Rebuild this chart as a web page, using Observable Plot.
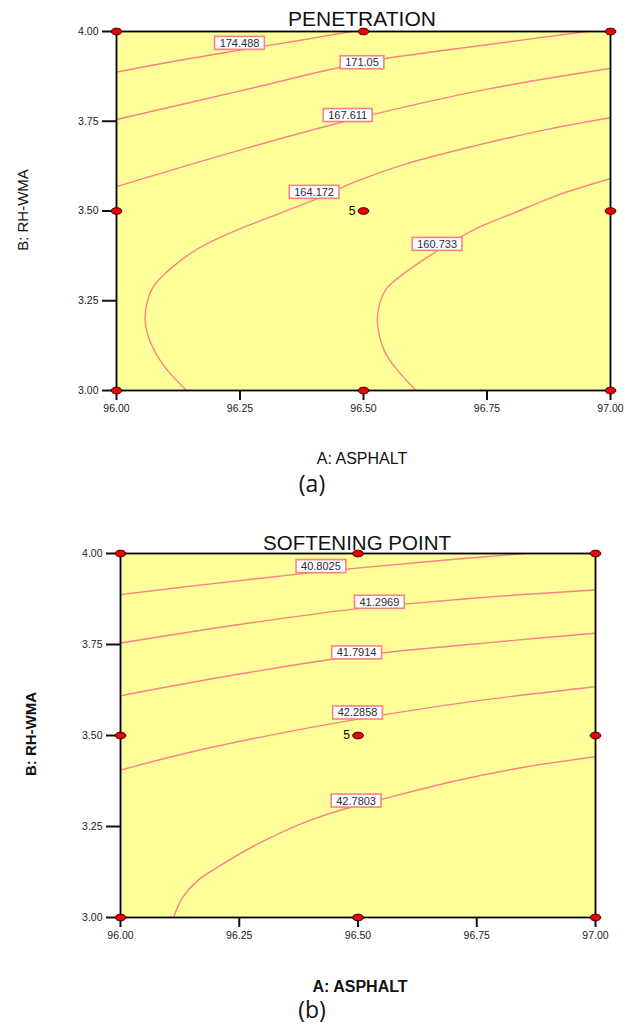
<!DOCTYPE html>
<html><head><meta charset="utf-8">
<script src="https://cdn.jsdelivr.net/npm/d3@7"></script>
<script src="https://cdn.jsdelivr.net/npm/@observablehq/plot@0.6"></script>
<style>
body{margin:0;background:#fff;}
#root{position:relative;width:634px;height:1027px;overflow:hidden;font-family:"Liberation Sans",Arial,sans-serif;color:#111;}
.t{position:absolute;white-space:nowrap;}
</style></head><body><div id="root"></div>
<script>
// ---------- shared design (factor) data ----------
const designA = [96, 96.5, 97, 96, 96.5, 97, 96, 96.5, 97];
const designB = [3, 3, 3, 3.5, 3.5, 3.5, 4, 4, 4];
const replicateLabel = ["", "", "", "", "5", "", "", "", ""];
const xTicks = [96, 96.25, 96.5, 96.75, 97];
const yTicks = [3, 3.25, 3.5, 3.75, 4];

// ---------- (a) PENETRATION contours ----------
const penLevels = ["174.488", "171.05", "167.611", "164.172", "160.733"];
const penA = [
  [96, 96.12, 96.25, 96.37, 96.476],
  [96, 96.255, 96.455, 96.541, 96.75, 96.951],
  [96, 96.248, 96.47, 96.746, 97],
  [96.142, 96.098, 96.070, 96.058, 96.063, 96.074, 96.094, 96.125, 96.159, 96.200, 96.258, 96.337, 96.405, 96.487, 96.583, 96.727, 96.86, 97],
  [96.607, 96.569, 96.542, 96.528, 96.535, 96.546, 96.563, 96.604, 96.651, 96.727, 96.809, 96.891, 97]
];
const penB = [
  [3.887, 3.918, 3.948, 3.975, 4.0],
  [3.755, 3.836, 3.901, 3.924, 3.963, 4.0],
  [3.568, 3.669, 3.752, 3.838, 3.897],
  [3.0, 3.065, 3.130, 3.195, 3.251, 3.288, 3.320, 3.357, 3.390, 3.420, 3.455, 3.497, 3.534, 3.583, 3.630, 3.682, 3.724, 3.760],
  [3.0, 3.056, 3.111, 3.195, 3.251, 3.283, 3.306, 3.348, 3.390, 3.450, 3.497, 3.543, 3.590]
];
const penLabelA = [96.249, 96.497, 96.468, 96.400, 96.649];
const penLabelB = [3.967, 3.913, 3.766, 3.552, 3.407];

// ---------- (b) SOFTENING POINT contours ----------
const spLevels = ["40.8025", "41.2969", "41.7914", "42.2858", "42.7803"];
const spA = [
  [96, 96.2, 96.42, 96.65, 96.849],
  [96, 96.25, 96.496, 96.598, 96.8, 97],
  [96, 96.172, 96.449, 96.55, 96.8, 97],
  [96, 96.14, 96.3, 96.5, 96.75, 97],
  [96.112, 96.130, 96.165, 96.208, 96.286, 96.385, 96.456, 96.548, 96.704, 96.846, 97]
];
const spB = [
  [3.887, 3.918, 3.950, 3.978, 4.0],
  [3.754, 3.805, 3.848, 3.861, 3.883, 3.900],
  [3.609, 3.651, 3.710, 3.727, 3.758, 3.781],
  [3.405, 3.452, 3.497, 3.545, 3.595, 3.634],
  [3.0, 3.053, 3.104, 3.141, 3.2, 3.26, 3.292, 3.324, 3.375, 3.412, 3.442]
];
const spLabelA = [96.422, 96.545, 96.497, 96.499, 96.496];
const spLabelB = [3.964, 3.866, 3.727, 3.562, 3.32];

// ---------- helpers ----------
const ellipse = {draw(ctx, size) {
  const rx = Math.sqrt(size / Math.PI), ry = rx * 0.62, kx = rx * 0.5523, ky = ry * 0.5523;
  ctx.moveTo(rx, 0);
  ctx.bezierCurveTo(rx, ky, kx, ry, 0, ry);
  ctx.bezierCurveTo(-kx, ry, -rx, ky, -rx, 0);
  ctx.bezierCurveTo(-rx, -ky, -kx, -ry, 0, -ry);
  ctx.bezierCurveTo(kx, -ry, rx, -ky, rx, 0);
  ctx.closePath();
}};

function buildRows(levels, A, B) {
  const rows = [];
  levels.forEach((lv, i) => A[i].forEach((a, j) => rows.push({level: lv, a, b: B[i][j]})));
  return rows;
}
function buildLabels(levels, A, B) {
  return levels.map((lv, i) => ({level: lv, a: A[i], b: B[i]}));
}
const design = designA.map((a, i) => ({a, b: designB[i], rep: replicateLabel[i]}));

function contourChart({levels, A, B, LA, LB, height, marginLeft, marginRight, top}) {
  const rows = buildRows(levels, A, B);
  const labels = buildLabels(levels, LA, LB);
  const svg = Plot.plot({
    width: 634, height, marginLeft, marginRight, marginTop: 31, marginBottom: 40,
    style: {fontFamily: '"Liberation Sans", Arial, sans-serif', fontSize: "10.5px", color: "#222", background: "transparent", overflow: "visible"},
    x: {domain: [96, 97], axis: null},
    y: {domain: [3, 4], axis: null},
    marks: [
      Plot.frame({fill: "#ffff99"}),
      Plot.line(rows, {x: "a", y: "b", z: "level", stroke: "#ff8080", strokeWidth: 1.4, curve: "catmull-rom", clip: true}),
      Plot.text(labels, {x: "a", y: "b", text: "level", fontSize: 11, fill: "#2b2b3a", className: "clabel"}),
      Plot.frame({stroke: "#000", strokeWidth: 1.8}),
      Plot.axisX({ticks: xTicks, tickFormat: d3.format(".2f"), tickSize: 10, tickPadding: 4, strokeWidth: 2, stroke: "#111", label: null}),
      Plot.axisY({ticks: yTicks, tickFormat: d3.format(".2f"), tickSize: 14, tickPadding: 4, strokeWidth: 2, stroke: "#111", label: null}),
      Plot.dot(design, {x: "a", y: "b", symbol: ellipse, r: 5.4, fill: "#ee0000", stroke: "#2a0000", strokeWidth: 1}),
      Plot.text(design, {x: "a", y: "b", text: "rep", dx: -8, textAnchor: "end", fontSize: 12, fill: "#000"})
    ]
  });
  svg.style.position = "absolute";
  svg.style.left = "0px";
  svg.style.top = top + "px";
  return svg;
}

function boxLabels(svg, levels) {
  const want = new Set(levels);
  svg.querySelectorAll("text").forEach(t => {
    if (!want.has(t.textContent.trim())) return;
    const b = t.getBBox();
    const r = document.createElementNS("http://www.w3.org/2000/svg", "rect");
    r.setAttribute("x", b.x - 5);
    r.setAttribute("y", b.y - 0.5);
    r.setAttribute("width", b.width + 10);
    r.setAttribute("height", b.height + 1);
    r.setAttribute("fill", "#fff");
    r.setAttribute("stroke", "#ff8080");
    r.setAttribute("stroke-width", 1.6);
    const tr = t.getAttribute("transform");
    if (tr) r.setAttribute("transform", tr);
    t.parentNode.insertBefore(r, t);
  });
}

function hText(root, txt, cx, baseline, size, opts = {}) {
  const d = document.createElement("div");
  d.className = "t";
  d.textContent = txt;
  d.style.fontSize = size + "px";
  d.style.lineHeight = size + "px";
  d.style.left = cx + "px";
  d.style.top = (baseline - 0.8465 * size) + "px";
  d.style.transform = "translateX(-50%)";
  if (opts.weight) d.style.fontWeight = opts.weight;
  if (opts.family) d.style.fontFamily = opts.family;
  root.appendChild(d);
}
function vText(root, txt, baselineX, cy, size, opts = {}) {
  const d = document.createElement("div");
  d.className = "t";
  d.textContent = txt;
  d.style.fontSize = size + "px";
  d.style.lineHeight = size + "px";
  const cx = baselineX - 0.3465 * size;
  d.style.left = cx + "px";
  d.style.top = cy + "px";
  d.style.transform = "translate(-50%,-50%) rotate(-90deg)";
  if (opts.weight) d.style.fontWeight = opts.weight;
  root.appendChild(d);
}

const root = document.getElementById("root");

// (a)
const svgA = contourChart({levels: penLevels, A: penA, B: penB, LA: penLabelA, LB: penLabelB,
  height: 430, marginLeft: 116, marginRight: 24, top: 0});
root.appendChild(svgA);
boxLabels(svgA, penLevels);
hText(root, "PENETRATION", 362, 26, 21);
hText(root, "A: ASPHALT", 362, 465, 16);
vText(root, "B: RH-WMA", 27, 210, 15);
hText(root, "(a)", 312, 491, 23, {family: '"Open Sans", "DejaVu Sans", sans-serif'});

// (b)
const svgB = contourChart({levels: spLevels, A: spA, B: spB, LA: spLabelA, LB: spLabelB,
  height: 435, marginLeft: 120, marginRight: 39, top: 522});
root.appendChild(svgB);
boxLabels(svgB, spLevels);
hText(root, "SOFTENING POINT", 357, 550.5, 20.5);
hText(root, "A: ASPHALT", 360, 993, 16, {weight: "bold"});
vText(root, "B: RH-WMA", 35, 734, 15, {weight: "bold"});
hText(root, "(b)", 312, 1017, 23, {family: '"Open Sans", "DejaVu Sans", sans-serif'});
</script>
</body></html>
